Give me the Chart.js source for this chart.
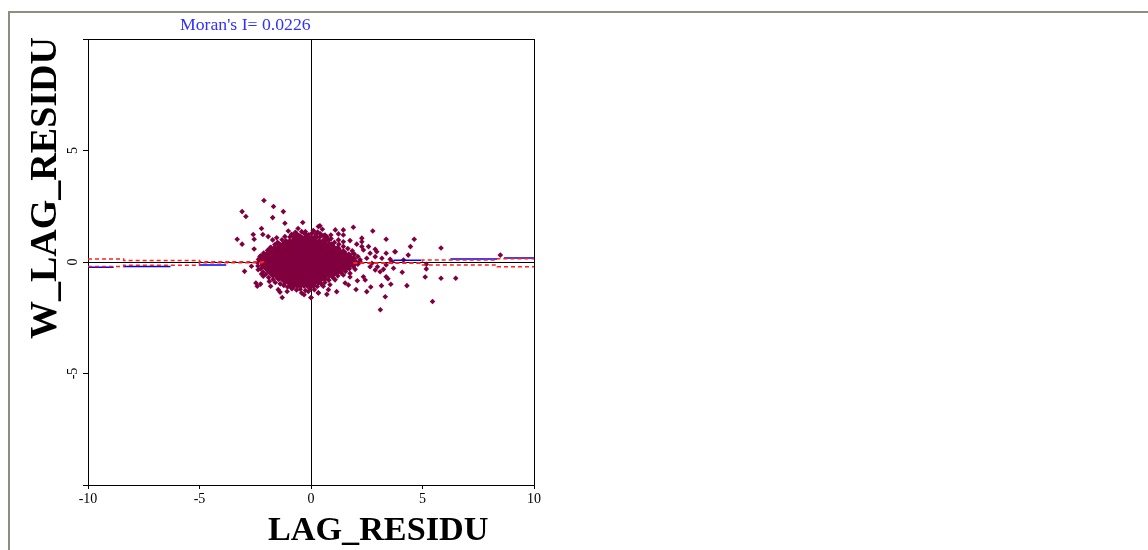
<!DOCTYPE html>
<html>
<head>
    <meta charset="UTF-8">
    <title>Moran scatter plot</title>
    <script src="https://cdn.jsdelivr.net/npm/chart.js"></script>
    <style>
        html, body { margin: 0; padding: 0; background: #fff; overflow: hidden; }
        #frame { position: absolute; left: 8px; top: 11px; right: 0; bottom: 0; border-top: 2px solid #8e8e80; border-left: 2px solid #8e8e80; }
        #chartBox { position: absolute; left: 0; top: 0; width: 1148px; height: 550px; }
        .label { position: absolute; font-family: "Liberation Serif", serif; white-space: nowrap; line-height: 1; }
        #moran { left: 180px; top: 16px; font-size: 17.7px; color: #3030ff; }
        #xTitle { left: 268px; top: 512px; font-size: 34.2px; font-weight: bold; color: #000; }
        #yTitle { left: 24px; top: 339px; font-size: 38px; font-weight: bold; color: #000; transform-origin: 0 0; transform: rotate(-90deg); }
    </style>
</head>
<body>
    <div id="frame"></div>
    <div id="chartBox"><canvas id="moranChart" width="1148" height="550"></canvas></div>
    <div class="label" id="moran">Moran's I= 0.0226</div>
    <div class="label" id="xTitle">LAG_RESIDU</div>
    <div class="label" id="yTitle">W_LAG_RESIDU</div>

    <script>
        // scattered points around the cloud
        const outerX = [-2.11,-1.68,-3.09,-2.92,-1.24,-1.72,-1.17,-0.37,-2.22,-0.58,-2.59,-2.16,-3.31,-2.55,-3.09,-2.55,-1.92,-1.72,-1.54,-1.02,-0.87,-1.17,0.10,0.33,-0.42,-0.19,0.18,-1.39,-1.84,-2.14,-2.29,-1.77,
            -2.98,-2.47,-2.26,-2.41,-1.29,-1.47,-1.39,-1.81,-1.87,-2.37,-2.22,-2.14,-2.67,-1.07,-0.87,-0.42,-0.12,0.00,0.33,-0.31,
            1.90,2.77,3.37,3.78,0.40,0.51,0.12,1.09,1.45,1.23,1.45,0.89,0.63,0.26,2.28,2.28,1.75,1.45,1.23,2.05,2.28,2.58,2.88,2.95,2.65,2.35,3.37,3.18,3.55,2.88,2.50,2.20,1.90,1.75,
            4.63,4.46,3.76,4.36,5.83,8.49,4.15,5.17,5.17,4.09,5.12,5.83,6.49,4.30,3.37,3.45,3.16,3.58,3.33,5.45,3.11,2.50,2.68,2.02,1.68,1.15,0.71,0.33,0.00,3.70,3.25,2.98,3.10,2.88,2.35,2.43,2.08,1.45,1.75,1.98,2.65,2.73,3.37,3.63,
            1.53,1.75,1.08,0.85,0.55,0.78];
        const outerY = [2.76,2.49,2.26,2.04,2.26,1.99,1.74,1.77,1.50,1.50,1.23,1.23,1.02,1.02,0.80,0.58,1.14,0.99,1.09,1.39,1.24,1.14,1.41,1.59,1.36,1.21,1.14,0.76,0.62,0.31,0.24,0.39,
            -0.42,-0.94,-0.99,-1.09,-1.59,-1.24,-1.35,-1.09,-0.87,-0.35,-0.54,-0.64,-0.19,-1.32,-1.17,-1.39,-1.32,-1.59,-1.39,-1.47,
            1.56,1.39,1.02,0.46,1.62,1.47,1.39,1.44,1.44,1.26,1.21,1.21,1.21,1.14,1.07,0.91,0.96,0.91,0.99,0.80,0.69,0.69,0.57,0.46,0.39,0.54,0.39,0.17,0.12,0.24,0.17,0.01,0.39,0.24,
            1.02,0.69,0.46,0.31,0.63,0.31,0.09,-0.10,-0.31,-0.46,-0.67,-0.73,-0.73,-1.06,-0.66,-0.75,-1.06,-1.00,-1.56,-1.77,-2.14,-1.33,-1.12,-1.23,-1.03,-1.33,-1.45,-1.38,-1.60,-0.28,-0.33,-0.21,-0.44,-0.36,-0.66,-0.81,-0.84,-0.58,-0.51,-0.33,-0.21,-0.06,-0.13,0.01,
            -0.94,-0.67,-0.80,-1.02,-1.09,-1.24];

        // rim of the cloud, between the solid part and the scatter
        const rimX = [-0.95,-0.8,-0.62,-0.5,-0.3,-0.1,0.05,0.22,0.42,0.55,0.72,0.9,-0.7,-0.25,0.3,
            -1.3,-1.5,-1.62,-1.8,-1.95,-2.12,-2.25,-2.35,-2.4,-2.38,-2.25,-2.15,-2.02,-1.9,-1.7,-1.6,-1.38,-1.22,-1.05,-0.85,-0.65,-0.48,-0.25,-0.05,0.15,0.28,0.45,0.62,0.8,1.0,1.2,1.35,1.55,1.72,1.9,2.1,2.2,2.1,1.95,1.85,1.65,1.45,1.25,1.05,0.8,0.65,0.4];
        const rimY = [1.12,1.2,1.25,1.18,1.28,1.22,1.3,1.24,1.27,1.18,1.12,1.05,1.33,1.36,1.34,
            1.0,0.88,0.78,0.66,0.52,0.4,0.28,0.12,-0.02,-0.18,-0.3,-0.45,-0.55,-0.7,-0.78,-0.92,-0.98,-1.05,-1.12,-1.2,-1.25,-1.22,-1.28,-1.2,-1.24,-1.1,-0.98,-0.92,-0.82,-0.72,-0.62,-0.48,-0.42,-0.3,-0.2,-0.1,0.1,0.25,0.35,0.5,0.6,0.7,0.8,0.88,0.98,1.05,1.12];

        // solid middle of the cloud, estimated row by row
        const coreRowY = [1.06,0.91,0.76,0.61,0.46,0.31,0.16,0.01,-0.14,-0.29,-0.44,-0.59,-0.74,-0.89,-1.04];
        const coreRowX = [
            [-0.72,-0.58,-0.41,-0.27,-0.12,0.03,0.18],
            [-1.12,-0.96,-0.83,-0.67,-0.52,-0.38,-0.22,-0.08,0.07,0.21,0.37,0.52,0.62],
            [-1.41,-1.27,-1.11,-0.97,-0.82,-0.66,-0.53,-0.37,-0.23,-0.07,0.08,0.22,0.38,0.53,0.67,0.82,0.91],
            [-1.62,-1.47,-1.33,-1.18,-1.03,-0.88,-0.74,-0.58,-0.44,-0.29,-0.13,0.01,0.16,0.31,0.46,0.6,0.76,0.91,1.05,1.2],
            [-1.82,-1.67,-1.53,-1.37,-1.23,-1.08,-0.92,-0.78,-0.63,-0.48,-0.34,-0.18,-0.04,0.11,0.26,0.4,0.56,0.71,0.85,1.0,1.16,1.3,1.45],
            [-2.0,-1.86,-1.71,-1.56,-1.41,-1.27,-1.12,-0.97,-0.82,-0.68,-0.52,-0.38,-0.23,-0.08,0.07,0.21,0.36,0.52,0.66,0.81,0.96,1.1,1.26,1.41,1.56,1.7],
            [-2.12,-1.97,-1.82,-1.68,-1.53,-1.38,-1.23,-1.08,-0.94,-0.79,-0.64,-0.49,-0.34,-0.2,-0.04,0.1,0.25,0.4,0.55,0.7,0.84,1.0,1.14,1.29,1.44,1.59,1.74,1.9],
            [-2.2,-2.06,-1.91,-1.76,-1.61,-1.46,-1.32,-1.17,-1.02,-0.87,-0.72,-0.57,-0.43,-0.28,-0.13,0.02,0.17,0.32,0.46,0.61,0.76,0.91,1.06,1.21,1.35,1.5,1.65,1.8,1.98],
            [-2.15,-2.0,-1.86,-1.7,-1.56,-1.41,-1.26,-1.11,-0.96,-0.82,-0.66,-0.52,-0.37,-0.22,-0.07,0.08,0.22,0.38,0.52,0.67,0.82,0.97,1.12,1.26,1.42,1.56,1.72,1.88],
            [-2.0,-1.85,-1.71,-1.56,-1.4,-1.26,-1.11,-0.96,-0.81,-0.67,-0.51,-0.37,-0.22,-0.06,0.08,0.23,0.38,0.53,0.67,0.83,0.97,1.12,1.27,1.42,1.55],
            [-1.85,-1.7,-1.56,-1.41,-1.26,-1.11,-0.96,-0.82,-0.67,-0.52,-0.37,-0.22,-0.08,0.07,0.22,0.37,0.52,0.66,0.81,0.96,1.11,1.2],
            [-1.7,-1.55,-1.4,-1.26,-1.11,-0.96,-0.81,-0.66,-0.52,-0.37,-0.22,-0.07,0.08,0.22,0.37,0.52,0.67,0.82,0.95],
            [-1.45,-1.3,-1.15,-1.0,-0.86,-0.71,-0.56,-0.41,-0.26,-0.12,0.03,0.18,0.33,0.48,0.62],
            [-1.15,-1.0,-0.85,-0.71,-0.56,-0.41,-0.26,-0.11,0.03,0.18,0.33],
            [-0.9,-0.75,-0.6,-0.46,-0.31,-0.16,-0.01,0.1]
        ];

        // regression line and the two dashed bands, broken where the picture breaks them
        const lineX = [-10,-8.85,null,-8.4,-6.3,null,-5.0,-3.8,null,3.7,4.95,null,6.25,8.35,null,8.65,10];
        const lineY = [-0.24,-0.24,null,-0.2,-0.2,null,-0.14,-0.14,null,0.08,0.08,null,0.14,0.14,null,0.18,0.18];
        const upperX = [-10,-8.4,-8.4,-5.0,-5.0,-2.0,null,1.9,5.0,5.0,8.35,8.35,10];
        const upperY = [0.13,0.13,0.07,0.07,0.01,0.01,null,-0.03,-0.03,0.09,0.09,0.15,0.15];
        const lowerX = [-10,-8.4,-8.4,-5.0,-5.0,-2.0,null,1.9,5.0,5.0,8.35,8.35,10];
        const lowerY = [-0.2,-0.2,-0.15,-0.15,-0.03,-0.03,null,-0.06,-0.06,-0.13,-0.13,-0.21,-0.21];

        const tickValues = [-10,-5,0,5,10];

        function pairs(xs, ys) {
            return xs.map((x, i) => ({ x: x, y: ys[i] }));
        }

        const points = pairs(outerX, outerY).concat(pairs(rimX, rimY));
        const corePoints = [];
        coreRowY.forEach((y, r) => coreRowX[r].forEach(x => corePoints.push({ x: x, y: y })));

        function frameColor(ctx) {
            return [-10, 0, 10].includes(ctx.tick.value) ? '#000' : 'rgba(0,0,0,0)';
        }

        const serif = '"Liberation Serif", serif';

        new Chart(document.getElementById('moranChart').getContext('2d'), {
            type: 'scatter',
            data: {
                datasets: [
                    { label: 'upper', type: 'line', data: pairs(upperX, upperY), borderColor: '#ff2020', borderWidth: 1.5, borderDash: [4, 3], pointRadius: 0, spanGaps: false, order: 1 },
                    { label: 'lower', type: 'line', data: pairs(lowerX, lowerY), borderColor: '#ff2020', borderWidth: 1.5, borderDash: [4, 3], pointRadius: 0, spanGaps: false, order: 1 },
                    { label: 'fit', type: 'line', data: pairs(lineX, lineY), borderColor: '#0000ff', borderWidth: 1.5, pointRadius: 0, spanGaps: false, order: 2 },
                    { label: 'points', data: points, backgroundColor: '#80003f', borderWidth: 0, pointStyle: 'rectRot', pointRadius: 2.8, pointHoverRadius: 2.8, order: 3 },
                    { label: 'core', data: corePoints, backgroundColor: '#80003f', borderWidth: 0, pointStyle: 'rectRot', pointRadius: 3.8, pointHoverRadius: 3.8, order: 3 }
                ]
            },
            options: {
                responsive: false,
                animation: false,
                layout: { padding: { top: 39, right: 614, left: 0, bottom: 0 } },
                plugins: { legend: { display: false }, title: { display: false }, tooltip: { enabled: false } },
                scales: {
                    x: {
                        type: 'linear', min: -10, max: 10,
                        afterBuildTicks: s => { s.ticks = tickValues.map(v => ({ value: v })); },
                        afterFit: s => { s.height = 65; },
                        border: { color: '#000', width: 1 },
                        grid: { color: frameColor, tickColor: '#000', tickLength: 4 },
                        ticks: { color: '#000', padding: 2, maxRotation: 0, font: { family: serif, size: 14 } }
                    },
                    y: {
                        type: 'linear', min: -10, max: 10,
                        afterBuildTicks: s => { s.ticks = tickValues.map(v => ({ value: v })); },
                        afterFit: s => { s.width = 88; },
                        border: { color: '#000', width: 1 },
                        grid: { color: frameColor, tickColor: '#000', tickLength: 5 },
                        ticks: {
                            color: '#000', padding: 4, minRotation: 90, maxRotation: 90, crossAlign: 'center',
                            font: { family: serif, size: 14 },
                            callback: v => (Math.abs(v) === 10 ? '' : v)
                        }
                    }
                }
            }
        });
    </script>
</body>
</html>
